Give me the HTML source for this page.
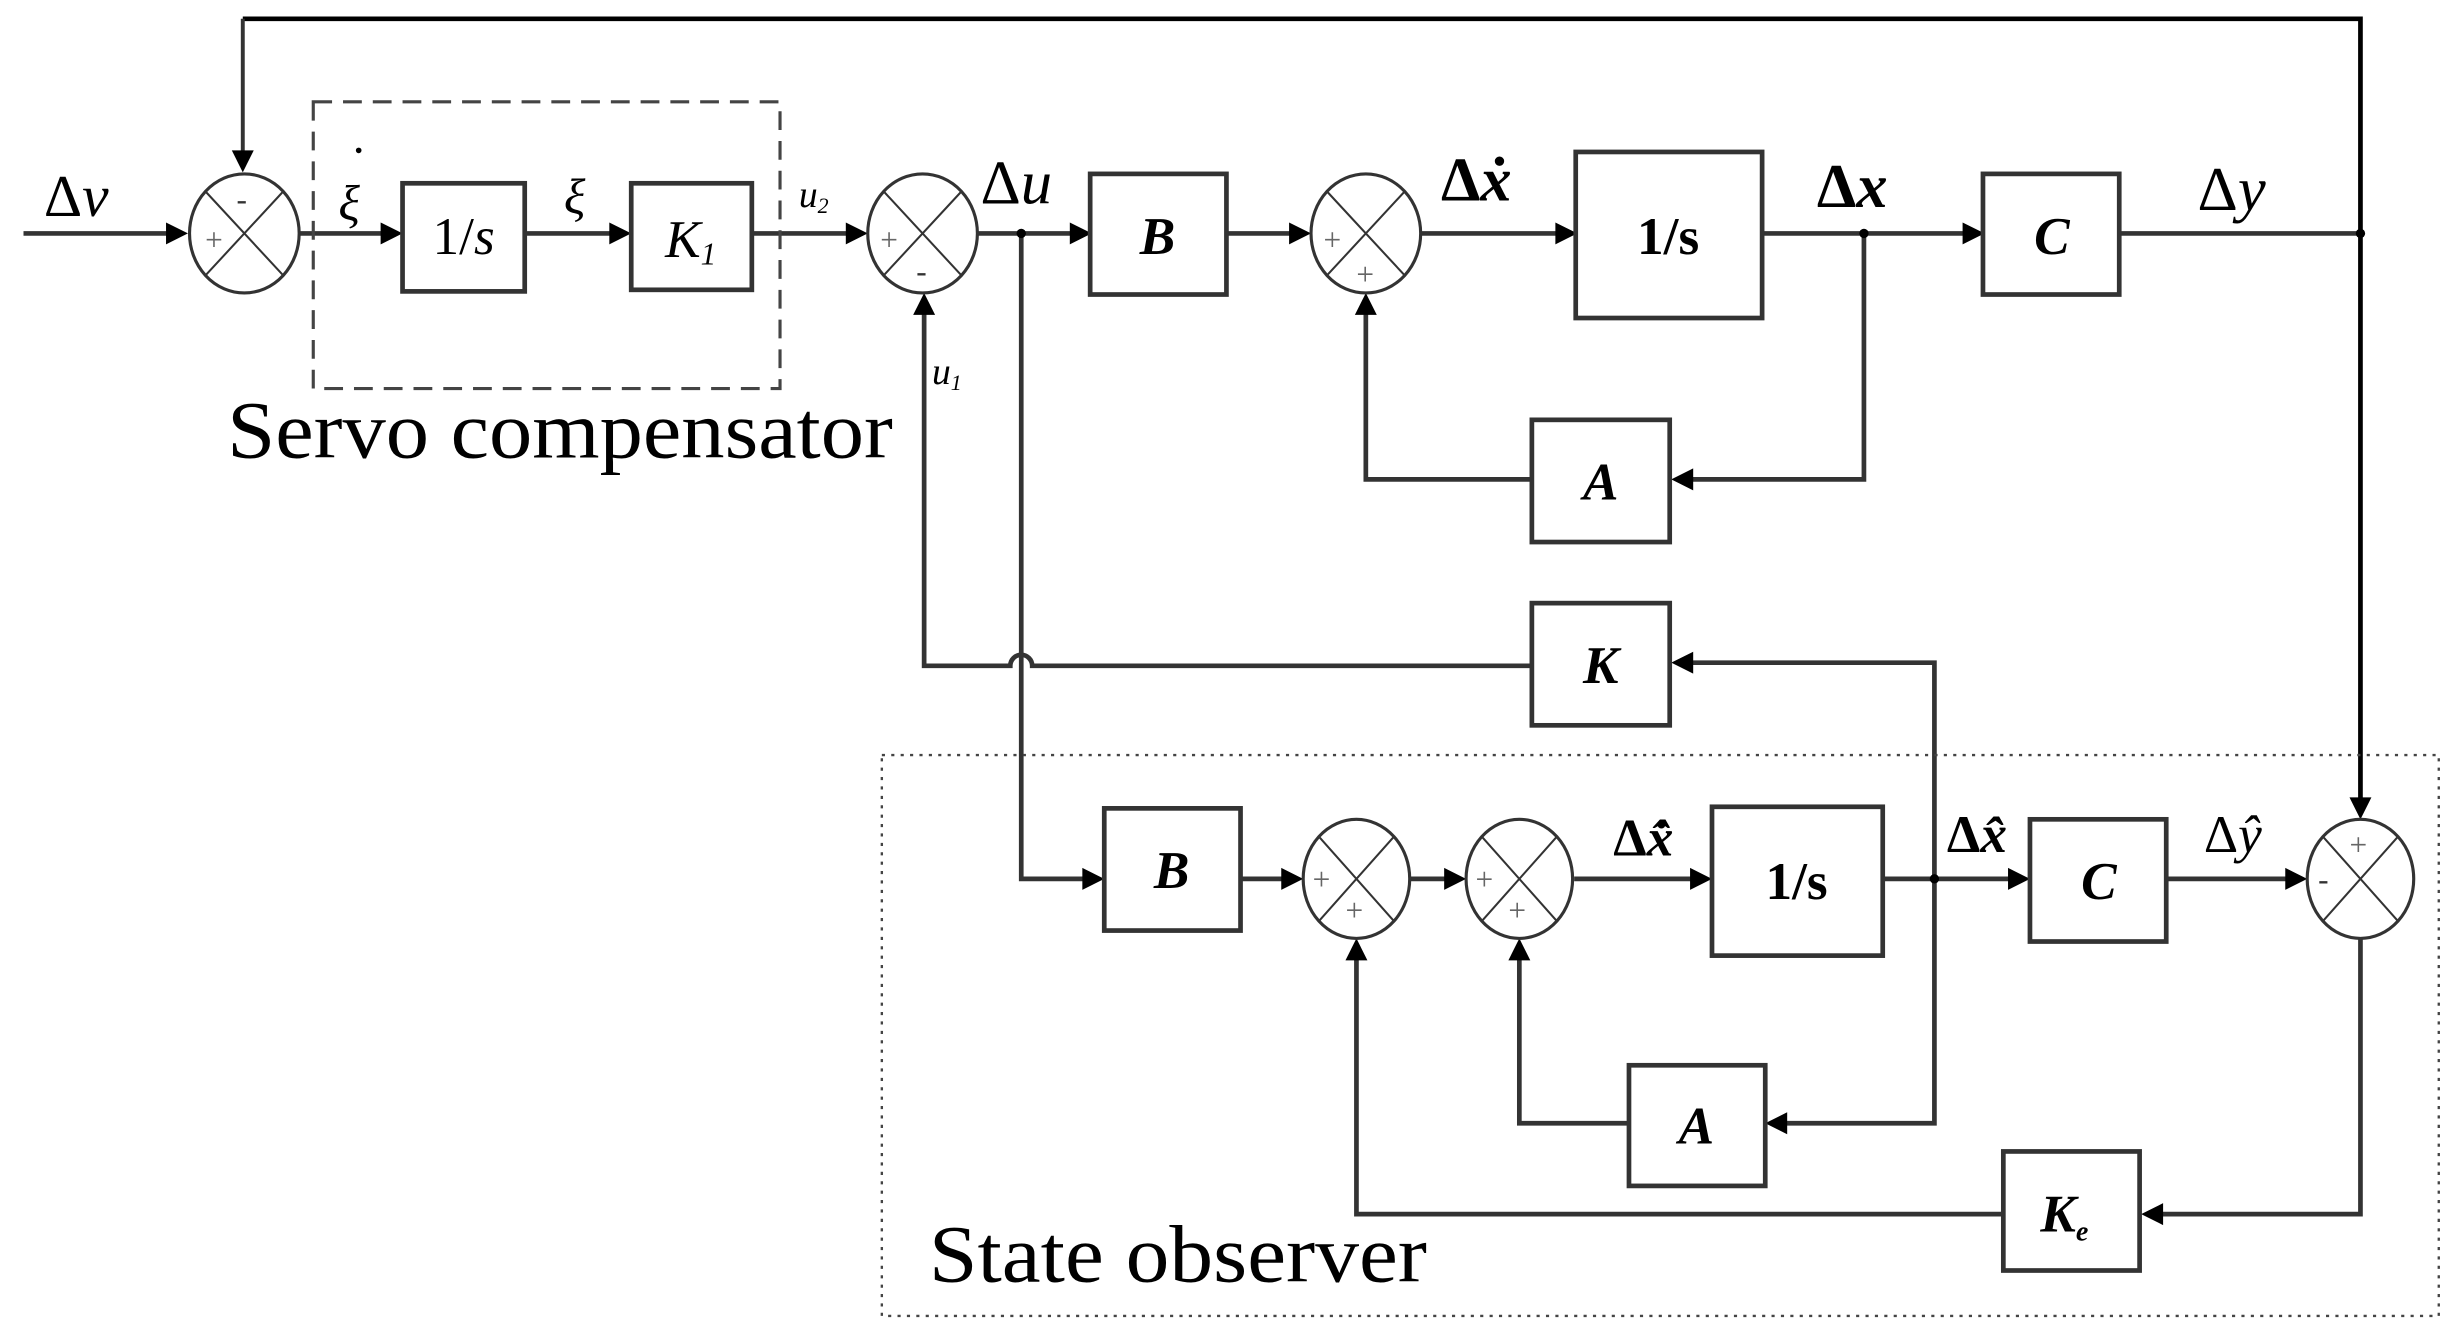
<!DOCTYPE html>
<html><head><meta charset="utf-8"><style>
html,body{margin:0;padding:0;background:#fff;}
svg{display:block;}
text{font-family:"Liberation Serif",serif;fill:#000;}
</style></head><body>
<svg width="2456" height="1341" viewBox="0 0 1568 856" preserveAspectRatio="none" xmlns="http://www.w3.org/2000/svg">
<g fill="none" stroke="#333" stroke-width="3">
<path d="M155 12 H1507 V512" stroke="#000" stroke-width="3"/>
<path d="M155 12 V100" stroke-width="2.5"/>
<path d="M15 149 H112"/>
<path d="M191 149 H246"/>
<path d="M335 149 H392"/>
<path d="M480 149 H543"/>
<path d="M624 149 H686"/>
<path d="M783 149 H826"/>
<path d="M907 149 H996"/>
<path d="M1125 149 H1256"/>
<path d="M1353 149 H1507"/>
<path d="M1190 149 V306 H1078"/>
<path d="M978 306 H872 V198"/>
<path d="M1235 561 V423 H1078"/>
<path d="M978 425 H659 A7 7 0 0 0 645 425 H590 V198"/>
<path d="M652 149 V561 H694"/>
<path d="M792 561 H821"/>
<path d="M900 561 H925"/>
<path d="M1005 561 H1082"/>
<path d="M1202 561 H1285"/>
<path d="M1383 561 H1462"/>
<path d="M1235 561 V717 H1140"/>
<path d="M1040 717 H970 V610"/>
<path d="M1507 599 V775 H1378"/>
<path d="M1279 775 H866 V610"/>
</g>
<g fill="#000">
<path d="M148 96 h14 l-7 14 z"/>
<path d="M106 142 v14 l14 -7 z"/>
<path d="M243 142 v14 l14 -7 z"/>
<path d="M389 142 v14 l14 -7 z"/>
<path d="M540 142 v14 l14 -7 z"/>
<path d="M683 142 v14 l14 -7 z"/>
<path d="M823 142 v14 l14 -7 z"/>
<path d="M993 142 v14 l14 -7 z"/>
<path d="M1253 142 v14 l14 -7 z"/>
<path d="M1081 299 v14 l-14 -7 z"/>
<path d="M865 201 h14 l-7 -14 z"/>
<path d="M1081 416 v14 l-14 -7 z"/>
<path d="M583 201 h14 l-7 -14 z"/>
<path d="M691 554 v14 l14 -7 z"/>
<path d="M818 554 v14 l14 -7 z"/>
<path d="M922 554 v14 l14 -7 z"/>
<path d="M1079 554 v14 l14 -7 z"/>
<path d="M1282 554 v14 l14 -7 z"/>
<path d="M1459 554 v14 l14 -7 z"/>
<path d="M1500 509 h14 l-7 14 z"/>
<path d="M1141 710 v14 l-14 -7 z"/>
<path d="M963 613 h14 l-7 -14 z"/>
<path d="M1381 768 v14 l-14 -7 z"/>
<path d="M859 613 h14 l-7 -14 z"/>
<circle cx="652" cy="149" r="3"/><circle cx="1190" cy="149" r="3"/><circle cx="1507" cy="149" r="3"/><circle cx="1235" cy="561" r="3"/>
<circle cx="229" cy="96" r="1.8"/>
</g>
<rect x="200" y="65" width="298" height="183" fill="none" stroke="#444" stroke-width="2" stroke-dasharray="12 7"/>
<rect x="563" y="482" width="994" height="358" fill="none" stroke="#444" stroke-width="1.5" stroke-dasharray="2 4"/>
<g fill="#fff" stroke="#333" stroke-width="3">
<rect x="257" y="117" width="78" height="69"/>
<rect x="403" y="117" width="77" height="68"/>
<rect x="696" y="111" width="87" height="77"/>
<rect x="1006" y="97" width="119" height="106"/>
<rect x="1266" y="111" width="87" height="77"/>
<rect x="978" y="268" width="88" height="78"/>
<rect x="978" y="385" width="88" height="78"/>
<rect x="705" y="516" width="87" height="78"/>
<rect x="1093" y="515" width="109" height="95"/>
<rect x="1296" y="523" width="87" height="78"/>
<rect x="1040" y="680" width="87" height="77"/>
<rect x="1279" y="735" width="87" height="76"/>
</g>
<g fill="#fff" stroke="#333" stroke-width="2">
<g transform="translate(156,149)"><ellipse rx="35" ry="38"/><path d="M-25 -27 L25 27 M25 -27 L-25 27" stroke-width="1.3"/></g>
<g transform="translate(589,149)"><ellipse rx="35" ry="38"/><path d="M-25 -27 L25 27 M25 -27 L-25 27" stroke-width="1.3"/></g>
<g transform="translate(872,149)"><ellipse rx="35" ry="38"/><path d="M-25 -27 L25 27 M25 -27 L-25 27" stroke-width="1.3"/></g>
<g transform="translate(866,561)"><ellipse rx="34" ry="38"/><path d="M-24 -27 L24 27 M24 -27 L-24 27" stroke-width="1.3"/></g>
<g transform="translate(970,561)"><ellipse rx="34" ry="38"/><path d="M-24 -27 L24 27 M24 -27 L-24 27" stroke-width="1.3"/></g>
<g transform="translate(1507,561)"><ellipse rx="34" ry="38"/><path d="M-24 -27 L24 27 M24 -27 L-24 27" stroke-width="1.3"/></g>
</g>
<g font-size="20">
<text x="131" y="160" style="fill:#666">+</text><text x="151" y="134" style="fill:#333">-</text>
<text x="562" y="160" style="fill:#666">+</text><text x="585" y="180" style="fill:#333">-</text>
<text x="845" y="160" style="fill:#666">+</text><text x="866" y="182" style="fill:#666">+</text>
<text x="838" y="568" style="fill:#666">+</text><text x="859" y="588" style="fill:#666">+</text>
<text x="942" y="568" style="fill:#666">+</text><text x="963" y="588" style="fill:#666">+</text>
<text x="1500" y="546" style="fill:#666">+</text><text x="1480" y="568" style="fill:#333">-</text>
</g>
<g font-size="34" text-anchor="middle">
<text x="296" y="162">1/<tspan font-style="italic">s</tspan></text>
<text x="441" y="164" font-style="italic">K<tspan font-size="20" dy="5">1</tspan></text>
<text x="739" y="162" font-style="italic" font-weight="bold">B</text>
<text x="1065" y="162" font-weight="bold">1/s</text>
<text x="1310" y="162" font-style="italic" font-weight="bold">C</text>
<text x="1022" y="319" font-style="italic" font-weight="bold">A</text>
<text x="1022" y="436" font-style="italic" font-weight="bold">K</text>
<text x="748" y="567" font-style="italic" font-weight="bold">B</text>
<text x="1147" y="574" font-weight="bold">1/s</text>
<text x="1340" y="574" font-style="italic" font-weight="bold">C</text>
<text x="1083" y="730" font-style="italic" font-weight="bold">A</text>
<text x="1318" y="786" font-style="italic" font-weight="bold">K<tspan font-size="18" dy="6">e</tspan></text>
</g>
<g font-size="38">
<text x="28" y="138">Δ<tspan font-style="italic">ν</tspan></text>
<text x="216" y="140" font-style="italic" font-size="32">ξ</text>
<text x="360" y="136" font-style="italic" font-size="32">ξ</text>
<text x="510" y="132" font-style="italic" font-size="24">u<tspan font-size="14" dy="4">2</tspan></text>
<text x="595" y="245" font-style="italic" font-size="24">u<tspan font-size="14" dy="4">1</tspan></text>
<text x="626" y="130" font-size="40">Δ<tspan font-style="italic">u</tspan></text>
<text x="920" y="128" font-size="40" font-weight="bold">Δ<tspan font-style="italic">ẋ</tspan></text>
<text x="1160" y="132" font-size="40" font-weight="bold">Δ<tspan font-style="italic">x</tspan></text>
<text x="1403" y="134" font-size="40">Δ<tspan font-style="italic">y</tspan></text>
<text x="1030" y="546" font-size="34" font-weight="bold">Δ<tspan font-style="italic">x̂̇</tspan></text>
<text x="1243" y="544" font-size="34" font-weight="bold">Δ<tspan font-style="italic">x̂</tspan></text>
<text x="1407" y="544" font-size="34">Δ<tspan font-style="italic">ŷ</tspan></text>
</g>
<text x="145" y="292" font-size="52" textLength="425" lengthAdjust="spacingAndGlyphs">Servo compensator</text>
<text x="593" y="818" font-size="52" textLength="318" lengthAdjust="spacingAndGlyphs">State observer</text>
</svg>
</body></html>
